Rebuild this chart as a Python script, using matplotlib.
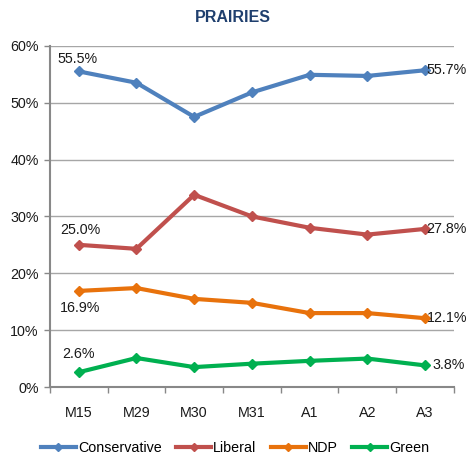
import numpy as np
import matplotlib.pyplot as plt
from matplotlib.lines import Line2D

plt.rcParams['font.family'] = ['Liberation Sans', 'DejaVu Sans']

# survey dates and party shares (%)
dates = ['M15', 'M29', 'M30', 'M31', 'A1', 'A2', 'A3']
conservative = [55.5, 53.5, 47.5, 51.8, 54.9, 54.7, 55.7]
liberal = [25.0, 24.3, 33.8, 30.0, 28.0, 26.8, 27.8]
ndp = [16.9, 17.4, 15.5, 14.8, 13.0, 13.0, 12.1]
green = [2.6, 5.1, 3.5, 4.1, 4.6, 5.0, 3.8]

names = ['Conservative', 'Liberal', 'NDP', 'Green']
colors = ['#4F81BD', '#C0504D', '#E8720C', '#00B050']
series = [conservative, liberal, ndp, green]

fs = 10.3

fig = plt.figure(figsize=(4.66, 4.58), dpi=100)
ax = fig.add_axes([0.107, 0.155, 0.867, 0.745])

x = np.arange(len(dates))
for vals, col in zip(series, colors):
    ax.plot(x, vals, color=col, lw=3, marker='D', ms=5.5, mec=col, mfc=col, zorder=3)

# first / last value labels
lab_kw = dict(fontsize=fs, color='#1a1a1a')
ax.annotate('%.1f%%' % conservative[0], (x[0], conservative[0]), xytext=(-1, 9), textcoords='offset points', ha='center', va='center', **lab_kw)
ax.annotate('%.1f%%' % conservative[-1], (x[-1], conservative[-1]), xytext=(1, 0), textcoords='offset points', ha='left', va='center', **lab_kw)
ax.annotate('%.1f%%' % liberal[0], (x[0], liberal[0]), xytext=(1, 11), textcoords='offset points', ha='center', va='center', **lab_kw)
ax.annotate('%.1f%%' % liberal[-1], (x[-1], liberal[-1]), xytext=(1, 0), textcoords='offset points', ha='left', va='center', **lab_kw)
ax.annotate('%.1f%%' % ndp[0], (x[0], ndp[0]), xytext=(1, -12), textcoords='offset points', ha='center', va='center', **lab_kw)
ax.annotate('%.1f%%' % ndp[-1], (x[-1], ndp[-1]), xytext=(1, 0), textcoords='offset points', ha='left', va='center', **lab_kw)
ax.annotate('%.1f%%' % green[0], (x[0], green[0]), xytext=(0, 13), textcoords='offset points', ha='center', va='center', **lab_kw)
ax.annotate('%.1f%%' % green[-1], (x[-1], green[-1]), xytext=(5, 0), textcoords='offset points', ha='left', va='center', **lab_kw)

ax.set_xlim(-0.5, len(dates) - 0.5)
ax.set_ylim(0, 60)
ax.set_yticks(np.arange(0, 61, 10))
ax.set_yticklabels(['%d%%' % v for v in range(0, 61, 10)])
ax.set_xticks(x)
ax.set_xticklabels(dates)
ax.set_xticks(np.arange(-0.5, len(dates), 1), minor=True)
ax.tick_params(axis='x', which='major', length=0, pad=14, labelsize=fs, colors='#1a1a1a')
ax.tick_params(axis='x', which='minor', length=4, width=1, color='#888888', direction='out')
ax.tick_params(axis='y', length=4, width=1, color='#888888', pad=4, labelsize=fs, labelcolor='#1a1a1a')
ax.grid(axis='y', color='#A6A6A6', lw=1)
ax.set_axisbelow(True)
for s in ['top', 'right']:
    ax.spines[s].set_visible(False)
ax.spines['left'].set_color('#888888')
ax.spines['left'].set_linewidth(1.5)
ax.spines['bottom'].set_color('#888888')
ax.spines['bottom'].set_linewidth(1.5)

fig.text(0.5, 0.962, 'PRAIRIES', ha='center', va='center', fontsize=11.5, fontweight='bold', color='#1F3F6E')

handles = [Line2D([0], [0], color=c, lw=3, marker='D', ms=4, mfc=c, mec=c) for c in colors]
fig.legend(handles, names, loc='center', bbox_to_anchor=(0.505, 0.022), ncol=4, frameon=False,
           fontsize=fs, handlelength=2.45, handletextpad=0.15, columnspacing=1.0, borderaxespad=0)

fig.savefig('out.png', dpi=100)
